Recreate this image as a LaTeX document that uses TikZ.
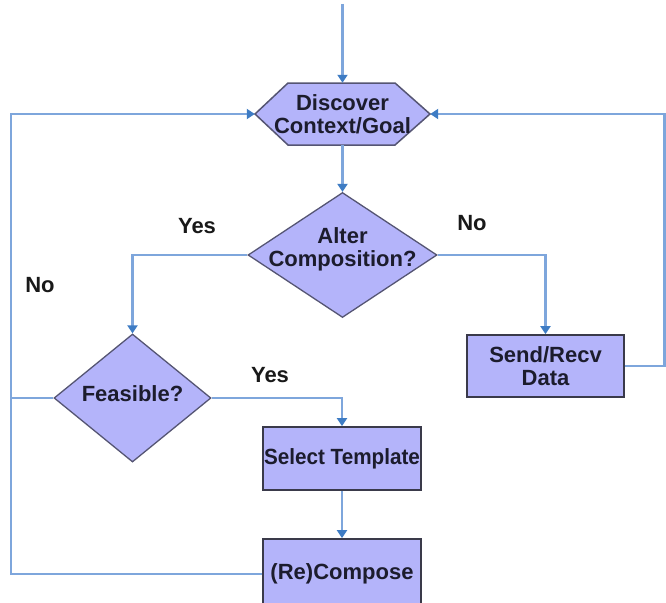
\documentclass[tikz,border=0pt]{standalone}
\usepackage{fontspec}
\setmainfont{Liberation Sans}
\usetikzlibrary{shapes.geometric,arrows.meta}
\definecolor{boxfill}{RGB}{180,180,250}
\definecolor{linkblue}{RGB}{126,166,220}
\definecolor{tipblue}{RGB}{62,124,196}
\definecolor{boxedge}{RGB}{58,58,74}
\definecolor{dmdedge}{RGB}{85,85,115}
\definecolor{txt}{RGB}{28,28,45}
\newcommand{\flatlbl}[1]{\smash{\makebox[0pt]{\begin{tabular}{@{}c@{}}#1\end{tabular}}}}
\tikzset{
  every node/.style={font=\fontsize{22}{25}\selectfont\bfseries, text=txt},
  procbox/.style={draw=boxedge, line width=1.8pt, fill=boxfill, minimum width=158pt, minimum height=63pt, inner sep=0pt, align=center},
  decision/.style={diamond, draw=dmdedge, line width=1.3pt, fill=boxfill, inner sep=0pt},
  hexshape/.style={draw=dmdedge, line width=1.5pt, fill=boxfill},
  hexnode/.style={minimum width=175pt, minimum height=62pt, inner sep=0pt, align=center},
  link/.style={draw=linkblue, line width=2.5pt},
  arrowlink/.style={link, -{Triangle[width=10pt,length=8pt,color=tipblue]}},
  lbl/.style={text=black!90, inner sep=0pt}
}
\begin{document}
\begin{tikzpicture}[x=1pt,y=-1pt]
\useasboundingbox (0,0) rectangle (666,602);
\clip (0,0) rectangle (666,602);
\fill[white] (0,0) rectangle (666,602);

% hexagon shape
\draw[hexshape] (255,114) -- (288,83) -- (395,83) -- (430,114) -- (395,145) -- (288,145) -- cycle;
\node[hexnode] (hex) at (342.5,114) {Discover\\[-2pt]Context/Goal};

\node[decision, minimum width=189pt, minimum height=125pt] (alter) at (342.5,255) {\raisebox{-0.3\height}{\flatlbl{Alter\\[-2pt]Composition?}}};
\node[decision, minimum width=157pt, minimum height=128pt] (feas) at (132.5,398) {\raisebox{-0.35em}{\flatlbl{Feasible?}}};
\node[procbox] (sel) at (342,458.5) {\makebox[0pt]{\scalebox{0.94}[1]{Select Template}}};
\node[procbox, minimum height=70pt] (recomp) at (342,574) {(Re)Compose};
\node[procbox, minimum width=157pt, minimum height=62pt] (send) at (545.5,366) {Send/Recv\\[-2pt]Data};

\coordinate (top) at (342.5,4);
\coordinate (L) at (11,570);
\coordinate (R) at (664.5,114);

\draw[arrowlink] (top) -- (hex.north);
\draw[arrowlink] (hex.south) -- (alter.north);
\draw[arrowlink] (alter.west) -| (feas.north);
\draw[arrowlink] (alter.east) -| (send.north);
\draw[arrowlink] (feas.east) -| (sel.north);
\draw[arrowlink] (sel.south) -- (recomp.north);
\draw[arrowlink] (recomp.west) -| (L) |- (hex.west);
\draw[link] (feas.west) -- (feas.west -| L);
\draw[arrowlink] (send.east) -| (R) -- (hex.east);

\node[lbl] (yes1) at (197,226) {Yes};
\node[lbl] (no1) at (472,223) {No};
\node[lbl] (yes2) at (270,375) {Yes};
\node[lbl] (no2) at (40,285) {No};
\end{tikzpicture}
\end{document}
